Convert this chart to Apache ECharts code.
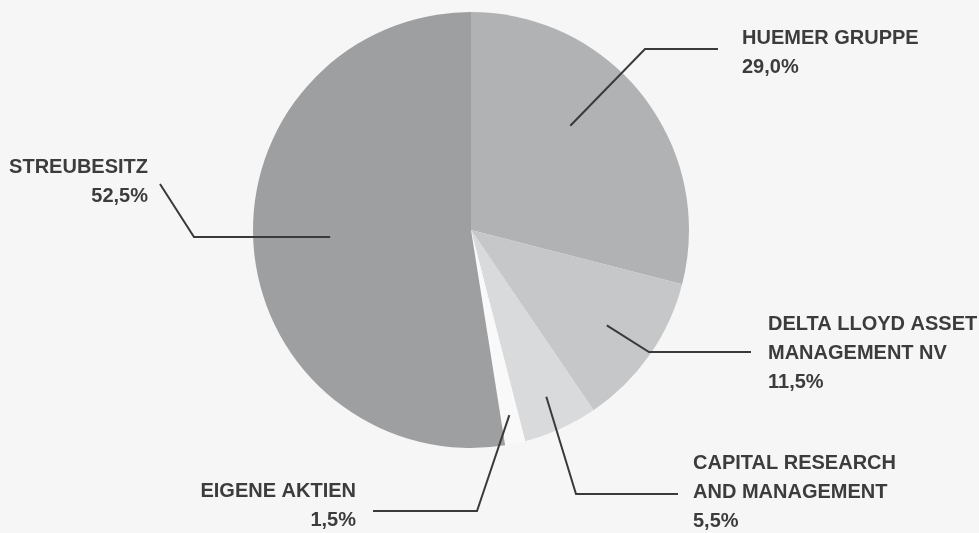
<!DOCTYPE html>
<html><head><meta charset="utf-8">
<script src="https://cdn.jsdelivr.net/npm/echarts@6/dist/echarts.min.js"></script>
<style>html,body{margin:0;padding:0;background:#f6f6f6}#c{width:979px;height:533px}</style>
</head><body><div id="c"></div>
<script>
const categories = ['HUEMER GRUPPE', 'DELTA LLOYD ASSET\nMANAGEMENT NV', 'CAPITAL RESEARCH\nAND MANAGEMENT', 'EIGENE AKTIEN', 'STREUBESITZ'];
const shares = [29.0, 11.5, 5.5, 1.5, 52.5];
const sliceColors = ['#b1b2b3', '#c6c7c8', '#d9dadb', '#f9f9f9', '#9e9fa0'];

const PIE_CENTER = [471, 230];
const PIE_RADIUS = 218;
// label placement: anchor distance from centre, angle shift (deg), elbow, line end, text position
const labelLayouts = [
  {r: 144, shift: -8.6, elbow: [645, 49], end: [718, 49], x: 742, y: 24, align: 'left'},
  {r: 166, shift: 0, elbow: [649, 352], end: [751, 352], x: 768, y: 310, align: 'left'},
  {r: 183, shift: 0, elbow: [576, 494], end: [678, 494], x: 693, y: 449, align: 'left'},
  {r: 189, shift: 0, elbow: [477, 511], end: [373, 511], x: 356, y: 477, align: 'right'},
  {r: 141, shift: 1.7, elbow: [194, 237], end: [160, 184], x: 148, y: 153, align: 'right'}
];

const total = shares.reduce((a, b) => a + b, 0);
const midAngles = [];
let cum = 0;
shares.forEach(v => { midAngles.push((cum + v / 2) / total * 360); cum += v; });

function fmt(v) { return v.toFixed(1).replace('.', ',') + '%'; }

const base = {
  type: 'pie',
  center: PIE_CENTER,
  radius: PIE_RADIUS,
  startAngle: 90,
  clockwise: true,
  avoidLabelOverlap: false,
  silent: true,
  emphasis: {disabled: true}
};

const chart = echarts.init(document.getElementById('c'), null, {renderer: 'canvas'});
chart.setOption({
  backgroundColor: '#f6f6f6',
  animation: false,
  series: [
    Object.assign({}, base, {
      z: 2,
      data: categories.map((n, i) => ({name: n, value: shares[i], itemStyle: {color: sliceColors[i]}})),
      itemStyle: {borderWidth: 0},
      label: {show: false},
      labelLine: {show: false}
    }),
    Object.assign({}, base, {
      z: 3,
      data: categories.map((n, i) => ({name: n, value: shares[i]})),
      itemStyle: {color: 'rgba(0,0,0,0)', borderWidth: 0},
      label: {
        show: true,
        position: 'outside',
        formatter: p => p.name + '\n' + fmt(p.value),
        fontFamily: 'Liberation Sans',
        fontWeight: 'bold',
        fontSize: 20,
        lineHeight: 29,
        color: '#3c3c3c'
      },
      labelLine: {show: true, lineStyle: {color: '#3a3a3a', width: 2}},
      labelLayout: function (params) {
        const L = labelLayouts[params.dataIndex];
        const a = (midAngles[params.dataIndex] + L.shift) * Math.PI / 180;
        const anchor = [PIE_CENTER[0] + L.r * Math.sin(a), PIE_CENTER[1] - L.r * Math.cos(a)];
        return {
          x: L.x, y: L.y, align: L.align, verticalAlign: 'top',
          labelLinePoints: [anchor, L.elbow, L.end]
        };
      }
    })
  ]
});
</script></body></html>
